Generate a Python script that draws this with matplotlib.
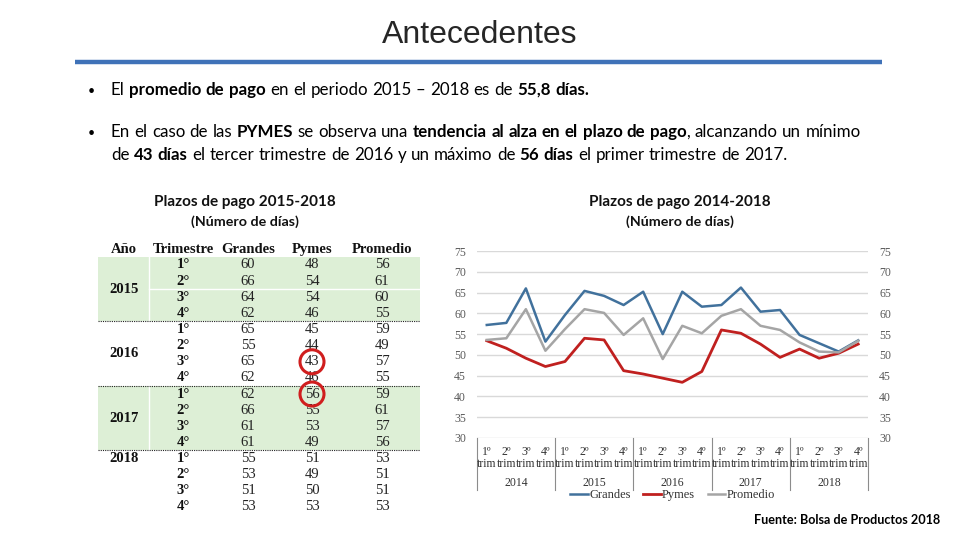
import matplotlib
matplotlib.use('Agg')
import matplotlib.pyplot as plt
import matplotlib.transforms as mtransforms
from matplotlib.patches import Rectangle, Circle
import numpy as np

# ---- data: table (2015-2018) ----
table_years = ['2015', '2016', '2017', '2018']
table_quarters = ['1°', '2°', '3°', '4°']
table_grandes = [60, 66, 64, 62, 65, 55, 65, 62, 62, 66, 61, 61, 55, 53, 51, 53]
table_pymes = [48, 54, 54, 46, 45, 44, 43, 46, 56, 55, 53, 49, 51, 49, 50, 53]
table_promedio = [56, 61, 60, 55, 59, 49, 57, 55, 59, 61, 57, 56, 53, 51, 51, 53]
table_header = ['Año', 'Trimestre', 'Grandes', 'Pymes', 'Promedio']

# ---- data: line chart (2014-2018) ----
chart_years = ['2014', '2015', '2016', '2017', '2018']
chart_quarters = ['1º\ntrim', '2º\ntrim', '3º\ntrim', '4º\ntrim']
grandes = [57.2, 57.7, 66.0, 53.2, 59.6, 65.4, 64.2, 62.0, 65.2, 55.0,
           65.2, 61.6, 62.0, 66.2, 60.4, 60.8, 54.8, 52.8, 50.8, 53.5]
pymes = [53.4, 51.6, 49.2, 47.2, 48.4, 54.0, 53.6, 46.2, 45.4, 44.4,
         43.4, 46.0, 56.0, 55.2, 52.6, 49.4, 51.4, 49.2, 50.4, 52.6]
promedio = [53.6, 54.0, 61.0, 51.0, 56.2, 61.0, 60.1, 54.8, 58.8, 49.0,
            57.0, 55.2, 59.4, 61.0, 57.0, 56.0, 53.0, 50.8, 50.6, 53.4]

SANS = ['Lato', 'DejaVu Sans']
SERIF = ['Liberation Serif', 'DejaVu Serif']

fig = plt.figure(figsize=(9.6, 5.4), dpi=100)
fig.patch.set_facecolor('white')

# pixel canvas for slide text and table
cv = fig.add_axes([0, 0, 1, 1])
cv.set_xlim(0, 960)
cv.set_ylim(540, 0)
cv.axis('off')

renderer = fig.canvas.get_renderer()


def text_width(s, size, bold):
    t = cv.text(0, 0, s, fontsize=size, family=SANS,
                fontweight='bold' if bold else 'normal')
    w = t.get_window_extent(renderer=renderer).width
    t.remove()
    return w


def draw_runs(x, y, runs, size):
    # draws a line of mixed regular/bold text word by word
    sp = text_width('x x', size, False) - text_width('xx', size, False)
    for txt, bold in runs:
        words = txt.split(' ')
        for j, w in enumerate(words):
            if j > 0:
                x += sp
            if w:
                cv.text(x, y, w, fontsize=size, family=SANS, va='baseline',
                        fontweight='bold' if bold else 'normal', color='black')
                x += text_width(w, size, bold)


# title and rule
cv.text(480, 35, 'Antecedentes', fontsize=23, family=['Liberation Sans', 'DejaVu Sans'],
        ha='center', va='center', color='#262626')
cv.plot([75, 882], [62, 62], color='#3F72B8', lw=3.2, solid_capstyle='butt')

# bullets
fs = 12.2
cv.text(88, 95, '•', fontsize=9, family=SANS, va='baseline')
draw_runs(111, 95, [('El ', False), ('promedio de pago', True),
                    (' en el periodo 2015 – 2018 es de ', False),
                    ('55,8 días.', True)], fs)
cv.text(88, 137, '•', fontsize=9, family=SANS, va='baseline')
draw_runs(111, 137, [('En el caso de las ', False), ('PYMES', True),
                     (' se observa una ', False),
                     ('tendencia al alza en el plazo de pago', True),
                     (', alcanzando un mínimo', False)], fs)
draw_runs(111, 160, [('de ', False), ('43 días', True),
                     (' el tercer trimestre de 2016 y un máximo de ', False),
                     ('56 días', True), (' el primer trimestre de 2017.', False)], fs)

# subtitles
for cx, yr in [(245, '2015-2018'), (680, '2014-2018')]:
    cv.text(cx, 202, 'Plazos de pago ' + yr, fontsize=11, family=SANS,
            ha='center', va='center', fontweight='bold', color='#111111')
    cv.text(cx, 222, '(Número de días)', fontsize=10.3, family=SANS,
            ha='center', va='center', fontweight='bold', color='#111111')

cv.text(940, 520, 'Fuente: Bolsa de Productos 2018', fontsize=9.1, family=SANS,
        ha='right', va='center', fontweight='bold')

# ---- table ----
col_x = [124, 183, 248, 312, 382]
tx0, tx1 = 98, 420
row0, rstep = 265, 16.13
green = '#DDEFD6'
for k, band in enumerate([0, 2]):
    ytop = row0 + (band * 4 - 0.5) * rstep
    cv.add_patch(Rectangle((tx0, ytop), tx1 - tx0, 4 * rstep, color=green, lw=0, zorder=0))
    cv.plot([149, 149], [ytop, ytop + 4 * rstep], color='white', lw=1, zorder=1)
cv.plot([149, tx1], [row0 + 1.5 * rstep] * 2, color='white', lw=1, zorder=1)
for b in [3.5, 7.5, 11.5]:
    cv.plot([tx0, tx1], [row0 + b * rstep] * 2, color='#222222', lw=0.8,
            ls=(0, (1, 1)), zorder=1)

for cx, h in zip(col_x, table_header):
    cv.text(cx, 253, h, fontsize=10.5, family=SERIF, fontweight='bold',
            ha='center', va='baseline', color='#111111')

year_offset = [1.5, 1.5, 1.5, 0]
for i, yr in enumerate(table_years):
    cv.text(col_x[0], row0 + (i * 4 + year_offset[i]) * rstep, yr, fontsize=10.5,
            family=SERIF, fontweight='bold', ha='center', va='center', color='#111111')

for r in range(len(table_grandes)):
    yy = row0 + r * rstep
    cv.text(col_x[1], yy, table_quarters[r % 4], fontsize=10.5, family=SERIF,
            fontweight='bold', ha='center', va='center', color='#111111')
    for cx, vals in zip(col_x[2:], [table_grandes, table_pymes, table_promedio]):
        cv.text(cx, yy, str(vals[r]), fontsize=10.5, family=SERIF,
                ha='center', va='center', color='#222222')

for r in [int(np.argmin(table_pymes)), int(np.argmax(table_pymes))]:
    cv.add_patch(Circle((col_x[3], row0 + r * rstep), 12, fill=False,
                        ec='#D01E1E', lw=2.2, zorder=5))

# ---- line chart ----
ax = fig.add_axes([477 / 960, (540 - 438) / 540, 391 / 960, 187 / 540])
ax.patch.set_alpha(0)
x = np.arange(len(grandes)) + 0.5
ax.plot(x, grandes, color='#41719C', lw=1.8, label='Grandes')
ax.plot(x, pymes, color='#C0201F', lw=2.0, label='Pymes')
ax.plot(x, promedio, color='#A5A5A5', lw=1.8, label='Promedio')
ax.set_xlim(0, len(grandes))
ax.set_ylim(30, 75)
ax.set_yticks(np.arange(30, 76, 5))
ax.grid(axis='y', color='#D9D9D9', lw=1)
ax.set_axisbelow(True)
for s in ax.spines.values():
    s.set_visible(False)
ax.set_xticks([])
ax.tick_params(axis='y', length=0, labelsize=8.5, labelcolor='#595959',
               labelright=True, pad=8)
for lab in ax.get_yticklabels():
    lab.set_family(SERIF)

trans = mtransforms.blended_transform_factory(ax.transData, ax.transAxes)
for i in range(len(grandes)):
    ax.text(x[i], -0.045, chart_quarters[i % 4], transform=trans, ha='center',
            va='top', fontsize=8.5, family=SERIF, color='#333333', linespacing=1.0)
for j, yr in enumerate(chart_years):
    ax.text(j * 4 + 2, -0.24, yr, transform=trans, ha='center', va='center',
            fontsize=8.5, family=SERIF, color='#333333')
for j in range(len(chart_years) + 1):
    ax.plot([j * 4, j * 4], [0, -0.28], transform=trans, color='#8C8C8C',
            lw=0.8, clip_on=False)

leg = ax.legend(loc='center', bbox_to_anchor=(0.5, -0.307), ncol=3, frameon=False,
                handlelength=1.4, handletextpad=0.1, columnspacing=1.0,
                prop={'family': SERIF, 'size': 9})
for t in leg.get_texts():
    t.set_color('#333333')

fig.savefig('out.png', dpi=100, facecolor='white')
